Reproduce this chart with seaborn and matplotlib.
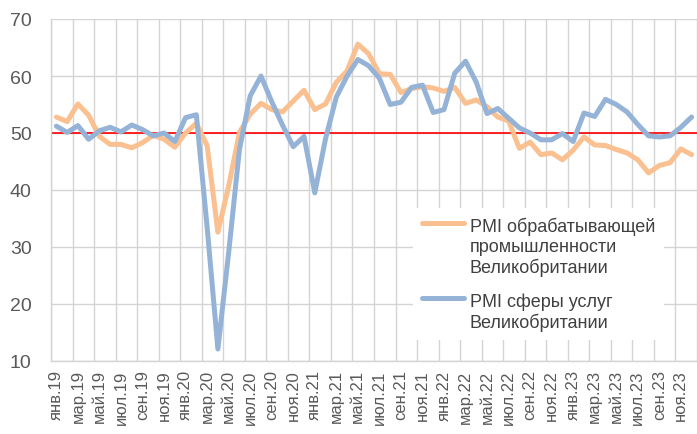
import numpy as np
import pandas as pd
import seaborn as sns
import matplotlib.pyplot as plt
from matplotlib.legend_handler import HandlerLine2D

# месячные данные, янв.2019 - дек.2023
mesyacy = ["янв", "фев", "мар", "апр", "май", "июн", "июл", "авг", "сен", "окт", "ноя", "дек"]
gody = ["19", "20", "21", "22", "23"]

pmi_proizv = [52.8, 52.0, 55.1, 53.1, 49.4, 48.0, 48.0, 47.4, 48.3, 49.6, 48.9, 47.5,
              50.0, 51.7, 47.8, 32.6, 40.7, 50.1, 53.3, 55.2, 54.1, 53.7, 55.6, 57.5,
              54.1, 55.1, 58.9, 60.9, 65.6, 63.9, 60.4, 60.3, 57.1, 57.8, 58.1, 57.9,
              57.3, 58.0, 55.2, 55.8, 54.6, 52.8, 52.1, 47.3, 48.4, 46.2, 46.5, 45.3,
              47.0, 49.3, 47.9, 47.8, 47.1, 46.5, 45.3, 43.0, 44.3, 44.8, 47.2, 46.2]

pmi_uslugi = [51.2, 50.1, 51.3, 48.9, 50.4, 51.0, 50.2, 51.4, 50.6, 49.5, 50.0, 48.5,
              52.7, 53.2, 33.5, 12.1, 29.0, 47.1, 56.5, 60.0, 55.5, 51.4, 47.6, 49.4,
              39.5, 49.0, 56.3, 60.0, 62.9, 61.8, 59.6, 55.0, 55.4, 58.0, 58.4, 53.6,
              54.1, 60.5, 62.6, 58.9, 53.4, 54.3, 52.6, 50.9, 50.0, 48.8, 48.8, 49.9,
              48.5, 53.5, 52.9, 55.9, 55.0, 53.7, 51.5, 49.5, 49.3, 49.5, 51.0, 52.8]

podpisi = [m + "." + g for g in gody for m in mesyacy]

df = pd.DataFrame({"n": np.arange(len(podpisi)), "metka": podpisi,
                   "proizv": pmi_proizv, "uslugi": pmi_uslugi})

sns.set_style("white")
plt.rcParams['font.family'] = ['Liberation Sans', 'DejaVu Sans']


class HandlerSverhu(HandlerLine2D):
    # линия легенды напротив первой строки подписи
    def __init__(self, podnyat, **kw):
        super().__init__(**kw)
        self.podnyat = podnyat

    def create_artists(self, legend, orig_handle, xdescent, ydescent, width, height, fontsize, trans):
        return super().create_artists(legend, orig_handle, xdescent, ydescent - 2 * self.podnyat,
                                      width, height, fontsize, trans)


fig = plt.figure(figsize=(6.97, 4.35), dpi=100)
ax = fig.add_axes([51 / 697, 73 / 435, 1 - 51 / 697, 342 / 435])

ax.axhline(50, color="#ff0000", lw=1.2, zorder=2)
sns.lineplot(data=df, x="n", y="proizv", color="#fac090", lw=3.6, ax=ax, zorder=3,
             label="PMI обрабатывающей\nпромышленности\nВеликобритании")
sns.lineplot(data=df, x="n", y="uslugi", color="#95b3d7", lw=3.6, ax=ax, zorder=4,
             label="PMI сферы услуг\nВеликобритании")

ax.set_xlim(-0.5, 58.9)
ax.set_ylim(10, 70)
ax.set_yticks(range(10, 71, 10))
ax.set_xticks(df["n"][::2])
ax.set_xticklabels(df["metka"][::2], rotation=90)
ax.set_xticks(np.arange(-0.5, 60, 2), minor=True)
ax.tick_params(axis="x", which="both", length=0, pad=6, labelsize=12, labelcolor="#595959")
ax.tick_params(axis="y", length=0, pad=14, labelsize=14, labelcolor="#595959")
ax.grid(axis="y", which="major", color="#d4d4d4", lw=1.0)
ax.grid(axis="x", which="minor", color="#d4d4d4", lw=1.0)
ax.grid(axis="x", which="major", visible=False)
ax.set_xlabel("")
ax.set_ylabel("")
for s in ["top", "right"]:
    ax.spines[s].set_visible(False)
for s in ["left", "bottom"]:
    ax.spines[s].set_color("#d4d4d4")
    ax.spines[s].set_linewidth(1.0)

h, l = ax.get_legend_handles_labels()
leg = ax.legend(h, l, loc="upper left", bbox_to_anchor=(404 / 697, 1 - 200 / 435),
                bbox_transform=fig.transFigure, fontsize=13, frameon=True, facecolor="white",
                edgecolor="none", framealpha=1, fancybox=False, handlelength=2.3,
                handletextpad=0.35, labelspacing=0.92, borderpad=0.5,
                handler_map={h[0]: HandlerSverhu(17), h[1]: HandlerSverhu(10)})
for t in leg.get_texts():
    t.set_color("#404040")
    t.set_linespacing(1.2)

plt.savefig("out.png", dpi=100)
